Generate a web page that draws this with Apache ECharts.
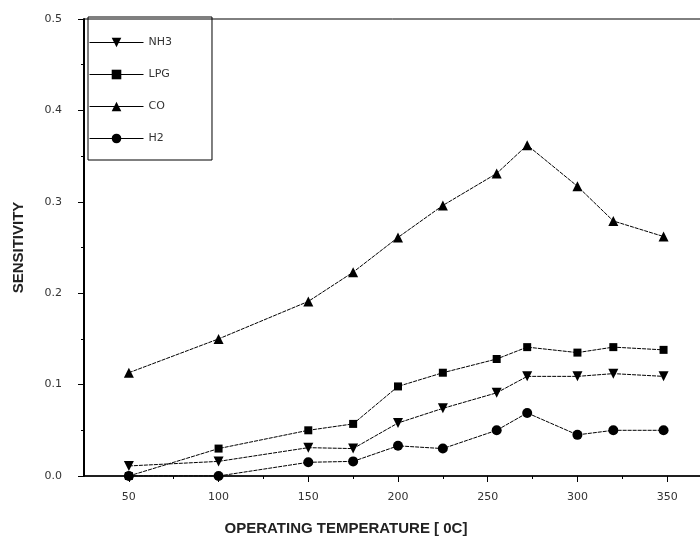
<!DOCTYPE html>
<html>
<head>
    <meta charset="utf-8">
    <title>Sensitivity vs operating temperature</title>
    <script src="https://cdn.jsdelivr.net/npm/echarts@6/dist/echarts.min.js"></script>
    <style>
        html, body { margin: 0; padding: 0; background: #fff; }
        #chart { width: 700px; height: 538px; }
    </style>
</head>
<body>
<div id="chart"></div>
<script>
    // temperatures (x) and sensitivity per gas
    var temps = [50, 100, 150, 175, 200, 225, 255, 272, 300, 320, 348];
    var nh3 = [0.011, 0.016, 0.031, 0.030, 0.058, 0.074, 0.091, 0.109, 0.109, 0.112, 0.109];
    var lpg = [0.000, 0.030, 0.050, 0.057, 0.098, 0.113, 0.128, 0.141, 0.135, 0.141, 0.138];
    var co = [0.113, 0.150, 0.191, 0.223, 0.261, 0.296, 0.331, 0.362, 0.317, 0.279, 0.262];
    var h2 = [0.000, 0.000, 0.015, 0.016, 0.033, 0.030, 0.050, 0.069, 0.045, 0.050, 0.050];
    var names = ['NH3', 'LPG', 'CO', 'H2'];
    var xMajor = [50, 100, 150, 200, 250, 300, 350];
    var xMinor = [75, 125, 175, 225, 275, 325];

    function pairs(ys) {
        return temps.map(function (t, i) { return [t, ys[i]]; });
    }

    function makeSeries(name, ys, symbol, rotate) {
        return {
            name: name,
            type: 'line',
            data: pairs(ys),
            symbol: symbol,
            symbolSize: symbol === 'rect' ? 8 : 10,
            symbolRotate: rotate || 0,
            itemStyle: { color: '#000' },
            lineStyle: { color: '#000', width: 1, type: [4, 1] }
        };
    }

    var chart = echarts.init(document.getElementById('chart'));
    var axisFont = { color: '#333', fontFamily: 'DejaVu Sans', fontSize: 11 };
    var titleFont = { color: '#222', fontFamily: 'Liberation Sans', fontSize: 15, fontWeight: 'bold' };

    chart.setOption({
        animation: false,
        grid: {
            left: 84, top: 19, bottom: 62, width: 628,
            outerBoundsMode: 'none',
            show: true, borderColor: '#000', borderWidth: 1
        },
        legend: {
            data: names,
            orient: 'vertical',
            left: 88, top: 17,
            padding: [20, 40, 16, 1],
            itemGap: 21,
            itemWidth: 54, itemHeight: 12,
            borderColor: '#000', borderWidth: 1,
            lineStyle: { type: 'solid', width: 1 },
            textStyle: { color: '#333', fontFamily: 'DejaVu Sans', fontSize: 11 }
        },
        xAxis: [{
            type: 'value',
            min: 25, max: 375,
            name: 'OPERATING TEMPERATURE [ 0C]',
            nameLocation: 'middle', nameGap: 45,
            nameTextStyle: Object.assign({ padding: [0, 104, 0, 0] }, titleFont),
            axisLine: { onZero: false, lineStyle: { color: '#000', width: 1.5 } },
            axisTick: { show: true, length: 6, customValues: xMajor, lineStyle: { color: '#000' } },
            splitLine: { show: false },
            axisLabel: Object.assign({ margin: 16, customValues: xMajor }, axisFont)
        }, {
            type: 'value',
            position: 'bottom',
            min: 25, max: 375,
            axisLine: { show: false, onZero: false },
            axisTick: { show: true, length: 3, customValues: xMinor, lineStyle: { color: '#000' } },
            axisLabel: { show: false },
            splitLine: { show: false }
        }],
        yAxis: {
            type: 'value',
            min: 0, max: 0.5, interval: 0.1,
            name: 'SENSITIVITY',
            nameLocation: 'middle', nameGap: 58,
            nameTextStyle: titleFont,
            axisLine: { show: true, lineStyle: { color: '#000', width: 2 } },
            axisTick: { show: true, length: 6, lineStyle: { color: '#000' } },
            minorTick: { show: true, splitNumber: 2, length: 3, lineStyle: { color: '#000' } },
            splitLine: { show: false },
            axisLabel: Object.assign({
                margin: 22,
                formatter: function (v) { return v.toFixed(1); }
            }, axisFont)
        },
        series: [
            makeSeries('NH3', nh3, 'triangle', 180),
            makeSeries('LPG', lpg, 'rect'),
            makeSeries('CO', co, 'triangle'),
            makeSeries('H2', h2, 'circle')
        ]
    });
</script>
</body>
</html>
